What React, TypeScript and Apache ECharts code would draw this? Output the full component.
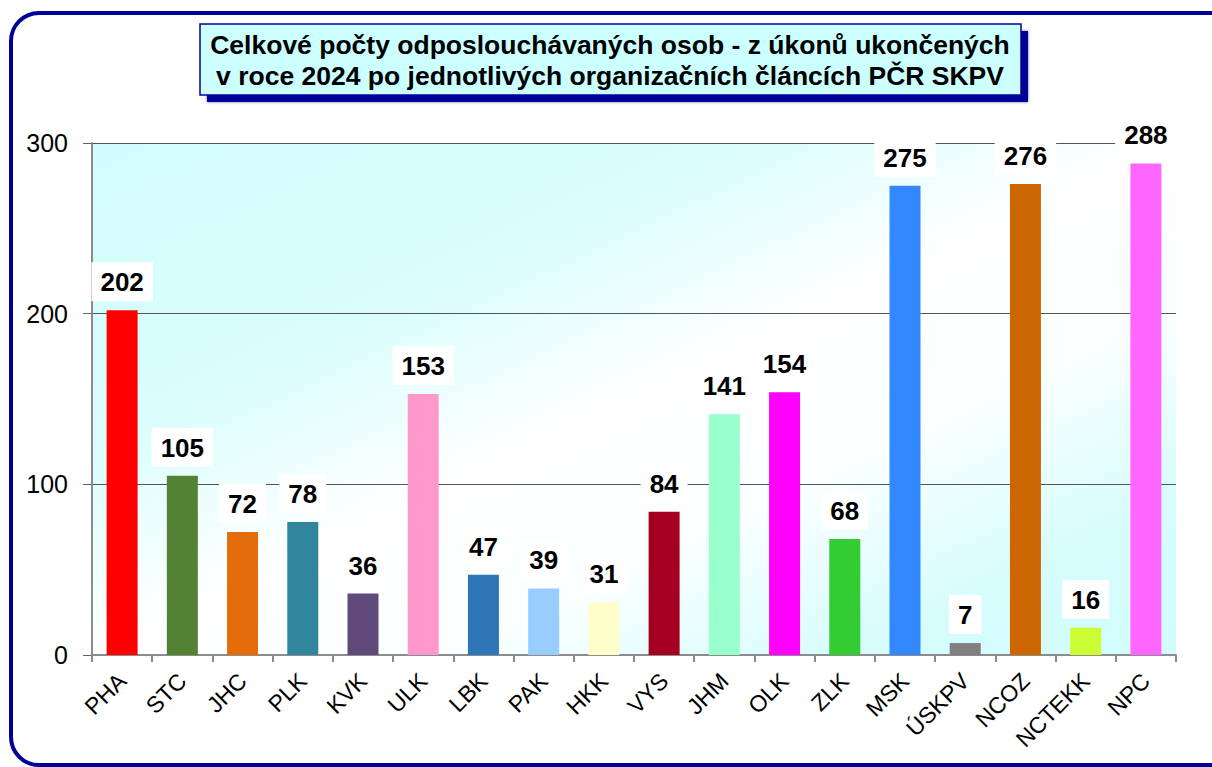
import React, { useEffect, useRef } from "react";
import * as echarts from "echarts";

const categories = ["PHA", "STC", "JHC", "PLK", "KVK", "ULK", "LBK", "PAK", "HKK", "VYS", "JHM", "OLK", "ZLK", "MSK", "ÚSKPV", "NCOZ", "NCTEKK", "NPC"];
const values = [202, 105, 72, 78, 36, 153, 47, 39, 31, 84, 141, 154, 68, 275, 7, 276, 16, 288];
const barColors = ["#ff0000", "#548235", "#e46c0a", "#31859c", "#604a7b", "#ff99cc", "#2e75b6", "#99ccff", "#ffffcc", "#a50021", "#99ffcc", "#ff00ff", "#33cc33", "#3388ff", "#808080", "#cc6600", "#ccff33", "#ff66ff"];
const titleLines = ["Celkové počty odposlouchávaných osob - z úkonů ukončených", "v roce 2024 po jednotlivých organizačních článcích PČR SKPV"];
const yTicks = { min: 0, max: 300, interval: 100 };

const FONT = '"Liberation Sans", Arial, sans-serif';
const NAVY = "#000099";

export default function App() {
  const ref = useRef<HTMLDivElement>(null);
  useEffect(() => {
    if (!ref.current) return;
    const chart = echarts.init(ref.current, undefined, { renderer: "svg" });
    chart.setOption({
      animation: false,
      backgroundColor: "#ffffff",
      textStyle: { fontFamily: FONT },
      grid: {
        left: 92,
        right: 36,
        top: 143,
        bottom: 112,
        show: true,
        borderWidth: 0,
        backgroundColor: {
          type: "linear",
          x: 0,
          y: 0,
          x2: 1,
          y2: 1,
          colorStops: [
            { offset: 0, color: "#d2fcfc" },
            { offset: 0.3, color: "#dafdfd" },
            { offset: 0.5, color: "#ffffff" },
            { offset: 0.66, color: "#fbffff" },
            { offset: 0.85, color: "#d6fcfc" },
            { offset: 1, color: "#d2fcfc" },
          ],
        },
      },
      xAxis: {
        type: "category",
        data: categories,
        axisLine: { show: true, lineStyle: { color: "#8c8c8c", width: 2 } },
        axisTick: { show: true, alignWithLabel: false, length: 7, lineStyle: { color: "#8c8c8c", width: 2 } },
        axisLabel: {
          interval: 0,
          rotate: 45,
          margin: 22,
          fontSize: 23,
          color: "#000",
          fontFamily: FONT,
        },
      },
      yAxis: {
        type: "value",
        min: yTicks.min,
        max: yTicks.max,
        interval: yTicks.interval,
        axisLine: { show: true, lineStyle: { color: "#8c8c8c", width: 2 } },
        axisTick: { show: true, inside: false, length: 9, lineStyle: { color: "#666", width: 1 } },
        axisLabel: { fontSize: 25, color: "#000", margin: 24, fontFamily: FONT },
        splitLine: { show: true, lineStyle: { color: "#555", width: 1 } },
      },
      series: [
        {
          type: "bar",
          data: values.map((v, i) => ({ value: v, itemStyle: { color: barColors[i] } })),
          barWidth: 31,
          label: {
            show: true,
            position: "top",
            distance: 9,
            backgroundColor: "#ffffff",
            padding: [7, 9, 6, 9],
            fontSize: 26,
            lineHeight: 26,
            fontWeight: "bold",
            color: "#000",
            fontFamily: FONT,
          },
        },
      ],
      graphic: [
        {
          type: "rect",
          shape: { x: 11, y: 13, width: 1230, height: 752, r: 28 },
          style: { fill: "none", stroke: NAVY, lineWidth: 4 },
          silent: true,
          z: 0,
        },
        {
          type: "rect",
          shape: { x: 207, y: 31, width: 821, height: 71 },
          style: { fill: NAVY, shadowBlur: 3, shadowColor: "rgba(0,0,100,0.6)" },
          z: 10,
        },
        {
          type: "rect",
          shape: { x: 200, y: 24, width: 821, height: 71 },
          style: { fill: "#ccffff", stroke: NAVY, lineWidth: 1.5 },
          z: 11,
        },
        {
          type: "text",
          x: 610,
          y: 45,
          z: 12,
          style: {
            text: titleLines[0],
            fill: "#000",
            font: `bold 26.5px ${FONT}`,
            align: "center",
            verticalAlign: "middle",
          },
        },
        {
          type: "text",
          x: 610,
          y: 76,
          z: 12,
          style: {
            text: titleLines[1],
            fill: "#000",
            font: `bold 26.5px ${FONT}`,
            align: "center",
            verticalAlign: "middle",
          },
        },
      ],
    });
    return () => chart.dispose();
  }, []);
  return <div ref={ref} style={{ position: "fixed", left: 0, top: 0, width: 1212, height: 767 }} />;
}
